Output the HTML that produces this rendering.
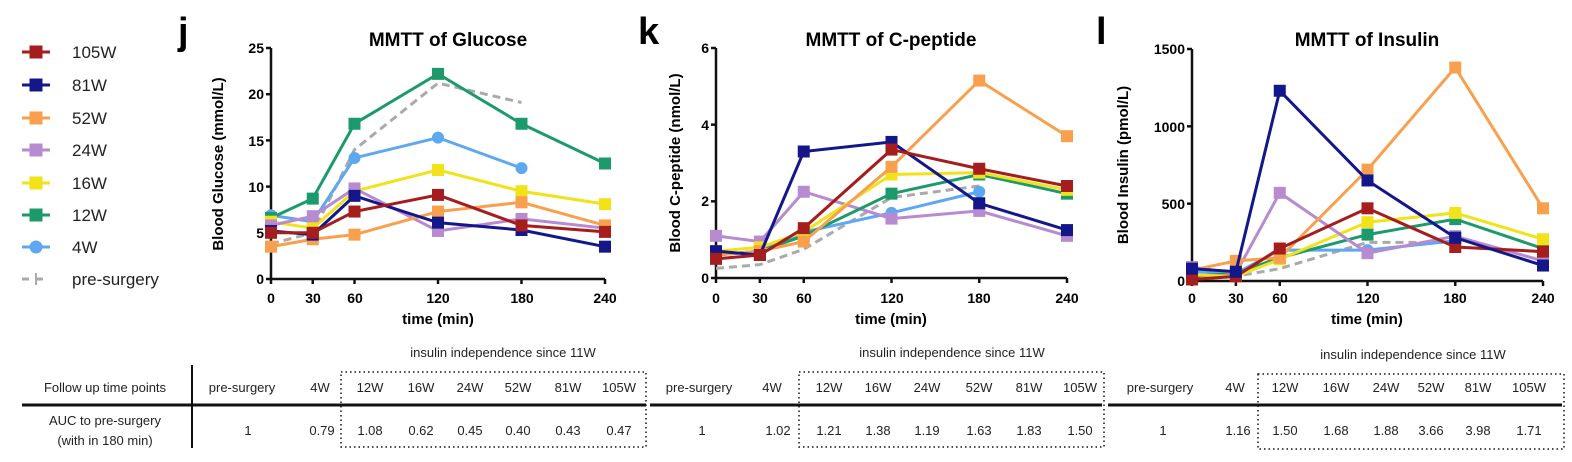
<!DOCTYPE html>
<html><head><meta charset="utf-8"><style>
body{margin:0;background:#fff;width:1572px;height:462px;overflow:hidden}
svg{display:block;font-family:"Liberation Sans",sans-serif}
</style></head><body>
<svg id="s" width="1572" height="462" viewBox="0 0 1572 462">
<g font-size="17" fill="#222">
<text x="72" y="58">105W</text><text x="72" y="91">81W</text><text x="72" y="124">52W</text>
<text x="72" y="156">24W</text><text x="72" y="189">16W</text><text x="72" y="221">12W</text>
<text x="72" y="253">4W</text><text x="72" y="285">pre-surgery</text>
</g>
<g font-weight="bold">
<text x="178" y="44" font-size="38">j</text>
<text x="638" y="44" font-size="38">k</text>
<text x="1096" y="44" font-size="38">l</text>
<text x="448" y="46" font-size="19" text-anchor="middle">MMTT of Glucose</text>
<text x="891" y="46" font-size="19" text-anchor="middle">MMTT of C-peptide</text>
<text x="1367" y="46" font-size="19" text-anchor="middle">MMTT of Insulin</text>
<text transform="translate(223,164) rotate(-90)" font-size="15" text-anchor="middle">Blood Glucose (mmol/L)</text>
<text transform="translate(680,163) rotate(-90)" font-size="15" text-anchor="middle">Blood C-peptide (nmol/L)</text>
<text transform="translate(1128,165) rotate(-90)" font-size="15" text-anchor="middle">Blood Insulin (pmol/L)</text>
<text x="438" y="324" font-size="15" text-anchor="middle">time (min)</text>
<text x="891" y="324" font-size="15" text-anchor="middle">time (min)</text>
<text x="1367" y="324" font-size="15" text-anchor="middle">time (min)</text>
<g font-size="14" text-anchor="end">
<text x="264" y="284">0</text><text x="264" y="238">5</text><text x="264" y="192">10</text><text x="264" y="146">15</text><text x="264" y="99">20</text><text x="264" y="53">25</text>
<text x="709" y="283">0</text><text x="709" y="206">2</text><text x="709" y="130">4</text><text x="709" y="53">6</text>
<text x="1185" y="286">0</text><text x="1185" y="209">500</text><text x="1185" y="132">1000</text><text x="1185" y="54">1500</text>
</g>
<g font-size="14" text-anchor="middle">
<text x="271" y="303">0</text><text x="313" y="303">30</text><text x="355" y="303">60</text><text x="438" y="303">120</text><text x="522" y="303">180</text><text x="605" y="303">240</text>
<text x="716" y="303">0</text><text x="760" y="303">30</text><text x="804" y="303">60</text><text x="892" y="303">120</text><text x="979" y="303">180</text><text x="1067" y="303">240</text>
<text x="1192" y="303">0</text><text x="1236" y="303">30</text><text x="1280" y="303">60</text><text x="1368" y="303">120</text><text x="1455" y="303">180</text><text x="1543" y="303">240</text>
</g>
</g>
<g id="axes" stroke="#111" stroke-width="2.5" fill="none"></g>
<g id="data"></g>
<g id="leg"></g>
<g font-size="13" fill="#222" text-anchor="middle">
<text x="503" y="357">insulin independence since 11W</text>
<text x="952" y="357">insulin independence since 11W</text>
<text x="1413" y="359">insulin independence since 11W</text>
<text x="105" y="392">Follow up time points</text>
<text x="105" y="425">AUC to pre-surgery</text>
<text x="105" y="445">(with in 180 min)</text>
<text x="242" y="392">pre-surgery</text><text x="320" y="392">4W</text><text x="370" y="392">12W</text><text x="421" y="392">16W</text><text x="470" y="392">24W</text><text x="518" y="392">52W</text><text x="568" y="392">81W</text><text x="619" y="392">105W</text>
<text x="248" y="435">1</text><text x="322" y="435">0.79</text><text x="370" y="435">1.08</text><text x="421" y="435">0.62</text><text x="470" y="435">0.45</text><text x="518" y="435">0.40</text><text x="568" y="435">0.43</text><text x="619" y="435">0.47</text>
<text x="699" y="392">pre-surgery</text><text x="772" y="392">4W</text><text x="829" y="392">12W</text><text x="878" y="392">16W</text><text x="927" y="392">24W</text><text x="979" y="392">52W</text><text x="1029" y="392">81W</text><text x="1080" y="392">105W</text>
<text x="702" y="435">1</text><text x="778" y="435">1.02</text><text x="829" y="435">1.21</text><text x="878" y="435">1.38</text><text x="927" y="435">1.19</text><text x="979" y="435">1.63</text><text x="1029" y="435">1.83</text><text x="1080" y="435">1.50</text>
<text x="1160" y="392">pre-surgery</text><text x="1235" y="392">4W</text><text x="1285" y="392">12W</text><text x="1336" y="392">16W</text><text x="1386" y="392">24W</text><text x="1431" y="392">52W</text><text x="1478" y="392">81W</text><text x="1529" y="392">105W</text>
<text x="1163" y="435">1</text><text x="1238" y="435">1.16</text><text x="1285" y="435">1.50</text><text x="1336" y="435">1.68</text><text x="1386" y="435">1.88</text><text x="1431" y="435">3.66</text><text x="1478" y="435">3.98</text><text x="1529" y="435">1.71</text>
</g>
<g stroke="#111" fill="none">
<line x1="22" y1="405" x2="646" y2="405" stroke-width="3"/>
<line x1="650" y1="405" x2="1102" y2="405" stroke-width="3"/>
<line x1="1108" y1="405" x2="1562" y2="405" stroke-width="3"/>
<line x1="192" y1="365" x2="192" y2="448" stroke-width="2"/>
<g stroke-dasharray="1.5 3" stroke-width="1.5">
<rect x="341" y="372" width="305" height="75"/>
<rect x="799" y="372" width="305" height="75"/>
<rect x="1258" y="374" width="306" height="75"/>
</g>
</g>
</svg>
<script>
var NS="http://www.w3.org/2000/svg";
function el(p,t,a){var e=document.createElementNS(NS,t);for(var k in a)e.setAttribute(k,a[k]);p.appendChild(e);return e;}
var ax=document.getElementById("axes"),dg=document.getElementById("data"),lg=document.getElementById("leg");
var C={red:"#a51d1d",navy:"#13178a",orange:"#f8a04e",purple:"#b88ad0",yellow:"#f2e21a",green:"#1d9a6c",blue:"#5ea8ef",gray:"#aaaaaa"};
var charts=[
{x0:271,x1:605,y0:279,y1:48,max:25,ticks:[0,5,10,15,20,25],
 d:{gray:[3.8,5,14,21.2,19.1],blue:[6.9,6.2,13.1,15.3,12.0],green:[6.6,8.7,16.8,22.2,16.8,12.5],yellow:[6.2,5.5,9.5,11.8,9.5,8.1],purple:[5.8,6.8,9.8,5.2,6.5,5.5],orange:[3.5,4.3,4.8,7.3,8.3,5.8],navy:[5.2,4.8,9.0,6.1,5.3,3.5],red:[5.0,5.0,7.3,9.1,5.8,5.1]}},
{x0:716,x1:1067,y0:278,y1:48,max:6,ticks:[0,2,4,6],
 d:{gray:[0.25,0.35,0.75,2.1,2.4],blue:[0.6,0.7,1.2,1.7,2.25],purple:[1.1,0.95,2.25,1.55,1.75,1.1],green:[0.6,0.7,1.1,2.2,2.7,2.2],yellow:[0.7,0.8,1.2,2.7,2.75,2.3],orange:[0.6,0.7,0.95,2.9,5.15,3.7],navy:[0.7,0.6,3.3,3.55,1.95,1.25],red:[0.5,0.6,1.3,3.35,2.85,2.4]}},
{x0:1192,x1:1543,y0:281,y1:49,max:1500,ticks:[0,500,1000,1500],
 d:{gray:[20,30,80,250,250],blue:[60,50,200,200,260],green:[30,50,150,300,400,210],yellow:[40,30,140,380,440,270],purple:[90,50,570,180,290,130],orange:[70,130,150,720,1380,470],red:[10,30,210,470,220,190],navy:[80,60,1230,650,280,100]}}
];
var T=[0,30,60,120,180,240];
charts.forEach(function(c){
 el(ax,"polyline",{points:c.x0+","+c.y1+" "+c.x0+","+c.y0+" "+c.x1+","+c.y0});
 c.ticks.forEach(function(t){var y=c.y0+(c.y1-c.y0)*t/c.max;el(ax,"line",{x1:c.x0-5,y1:y,x2:c.x0,y2:y});});
 T.forEach(function(t){var x=c.x0+(c.x1-c.x0)*t/240;el(ax,"line",{x1:x,y1:c.y0,x2:x,y2:c.y0+5});});
 for(var k in c.d){var v=c.d[k],pts=v.map(function(y,i){return [c.x0+(c.x1-c.x0)*T[i]/240,c.y0+(c.y1-c.y0)*y/c.max];});
  var a={points:pts.map(function(p){return p.join(",")}).join(" "),fill:"none",stroke:C[k],"stroke-width":3};
  if(k=="gray")a["stroke-dasharray"]="8 5";
  el(dg,"polyline",a);
  if(k!="gray")pts.forEach(function(p){ if(k=="blue")el(dg,"circle",{cx:p[0],cy:p[1],r:6,fill:C[k]}); else el(dg,"rect",{x:p[0]-6,y:p[1]-6,width:12,height:12,fill:C[k]});});
 }
});
var L=[["red",52],["navy",85],["orange",118],["purple",150],["yellow",183],["green",215],["blue",247],["gray",279]];
L.forEach(function(l){var c=C[l[0]],y=l[1];
 var a={x1:22,y1:y,x2:50,y2:y,stroke:c,"stroke-width":3};if(l[0]=="gray")a["stroke-dasharray"]="7 7";el(lg,"line",a);
 if(l[0]=="blue")el(lg,"circle",{cx:36,cy:y,r:6.5,fill:c});else if(l[0]=="gray")el(lg,"line",{x1:36,y1:y-6,x2:36,y2:y+6,stroke:c,"stroke-width":2});else el(lg,"rect",{x:29.5,y:y-6.5,width:13,height:13,fill:c});});
</script>
</body></html>
